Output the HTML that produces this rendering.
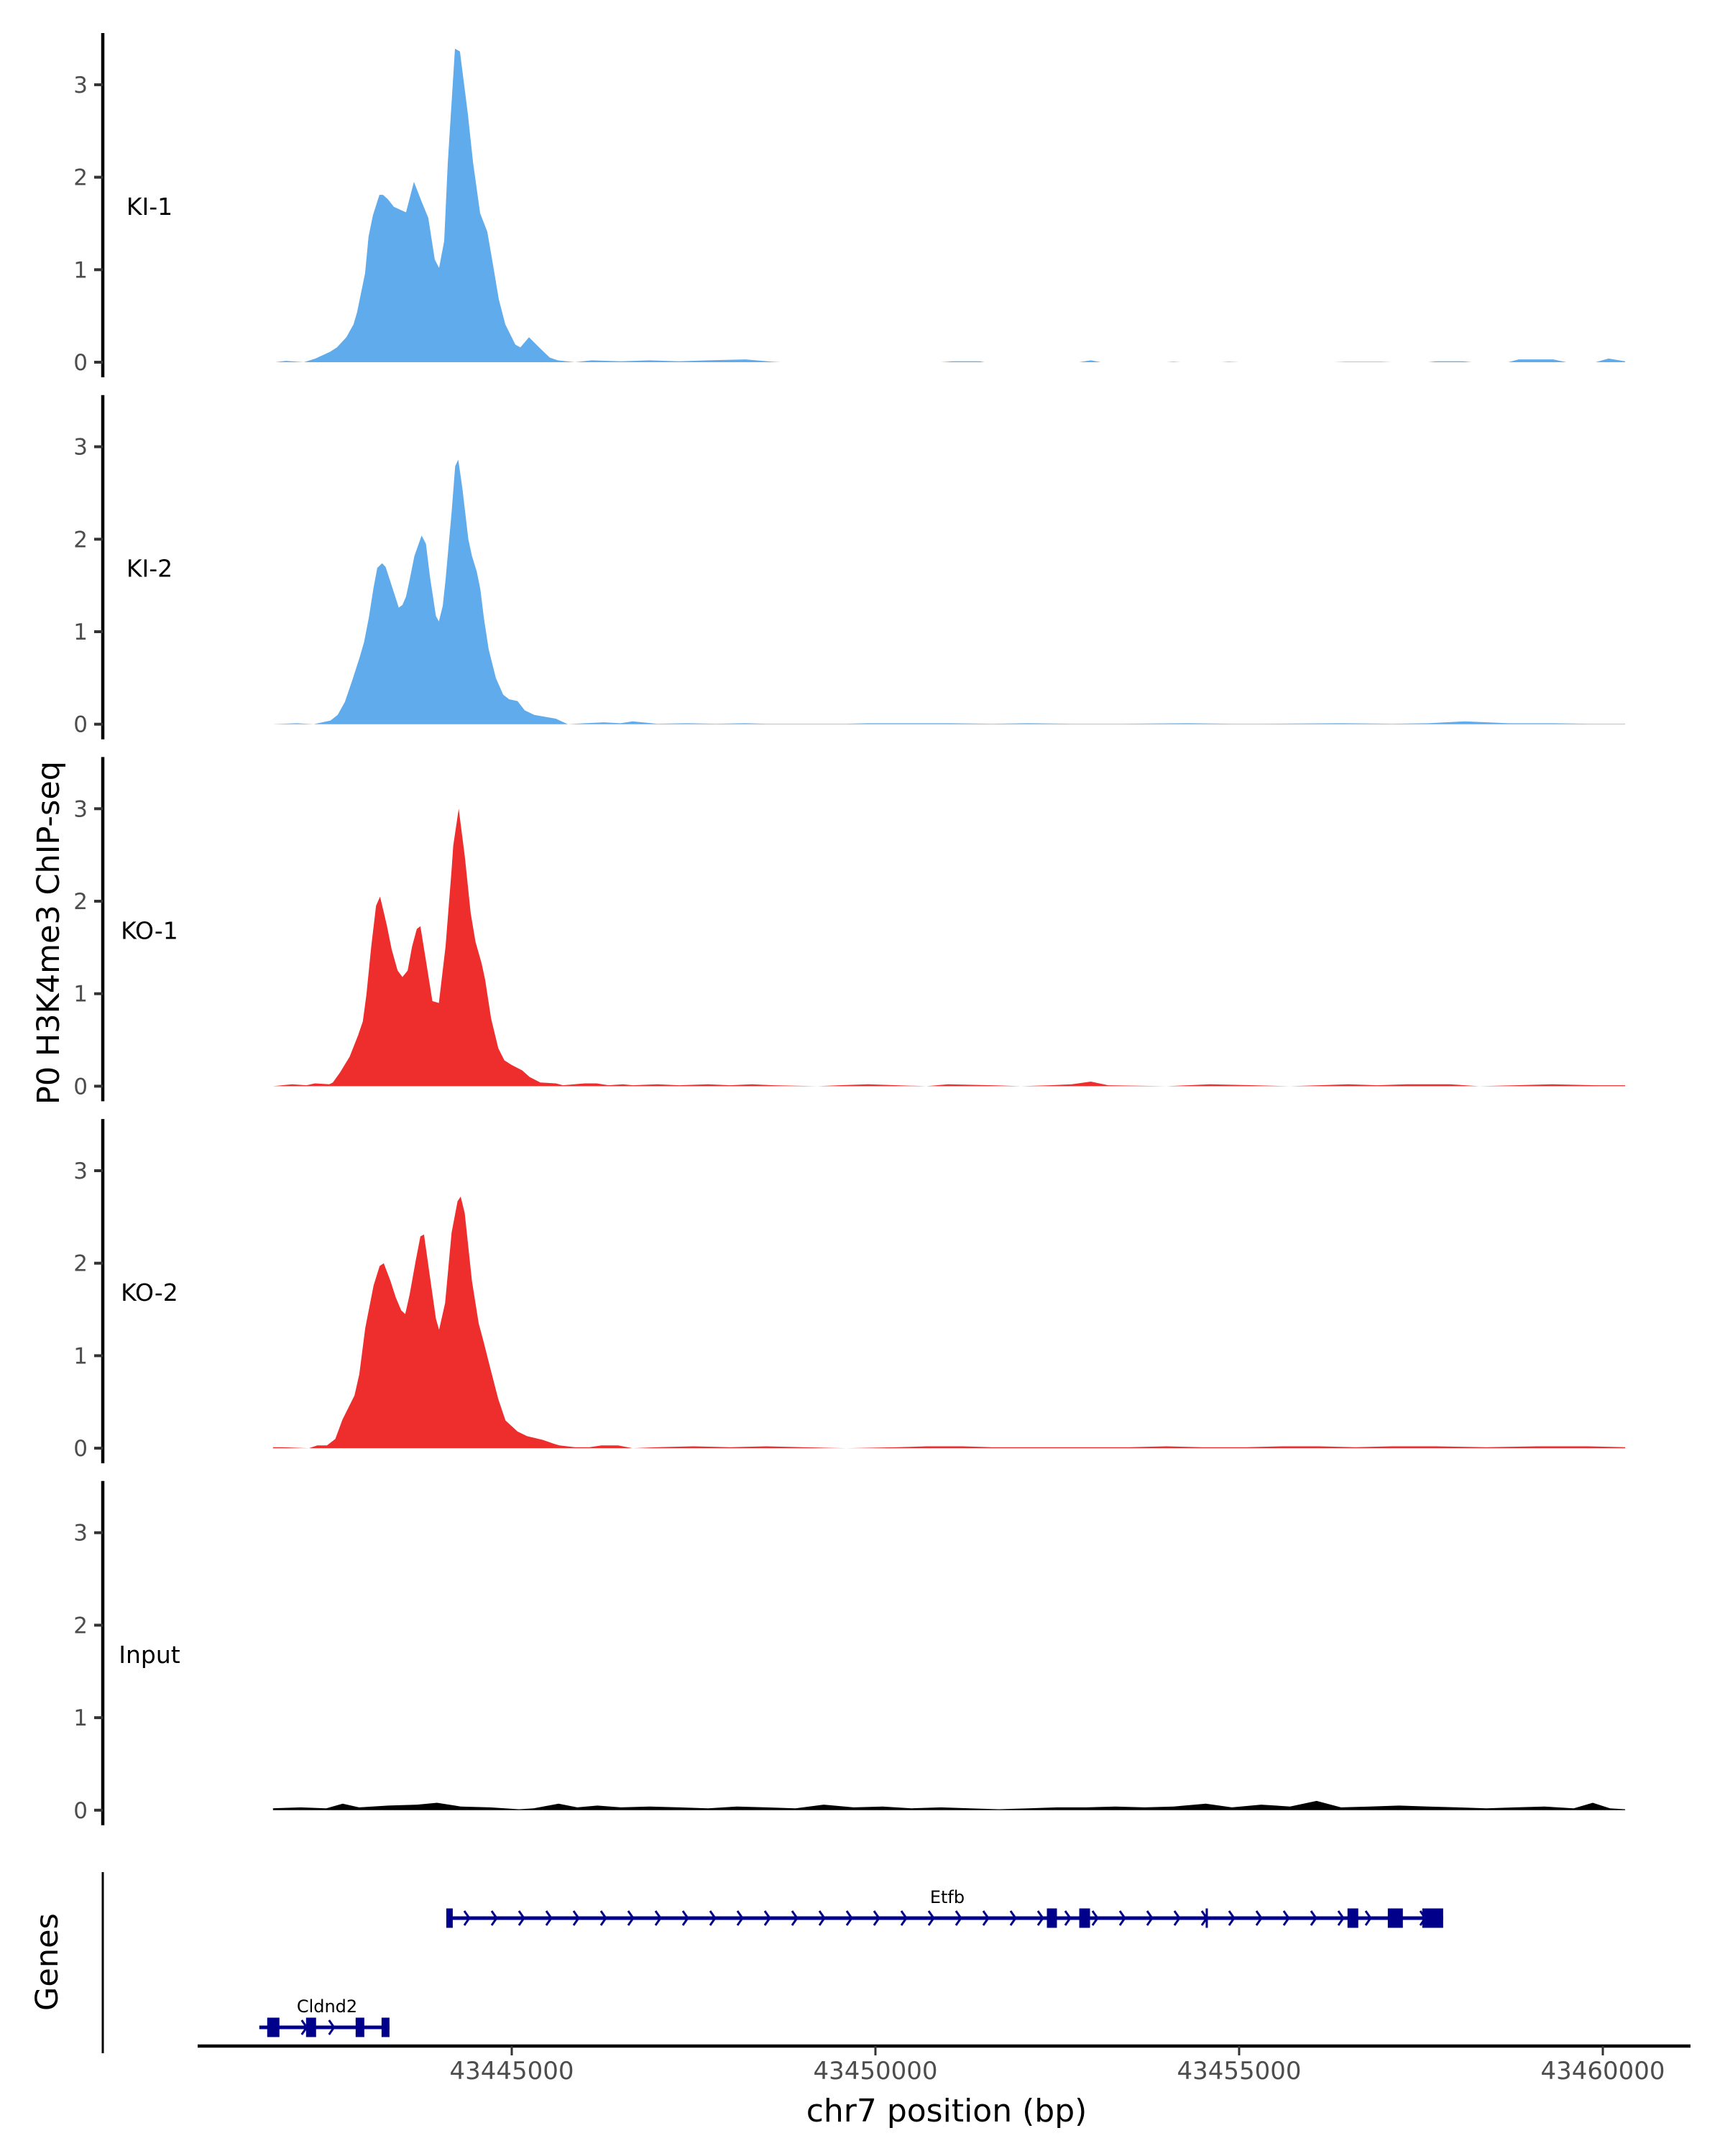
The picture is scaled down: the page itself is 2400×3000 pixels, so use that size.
<!DOCTYPE html>
<html><head><meta charset="utf-8"><style>
html,body{margin:0;padding:0;background:#fff}
svg{display:block}
text{font-family:"DejaVu Sans","Liberation Sans",sans-serif}
</style></head><body>
<svg id="chart" width="2400" height="3000" viewBox="0 0 2400 3000" xmlns="http://www.w3.org/2000/svg">
<text transform="translate(82,1298) rotate(-90)" text-anchor="middle" font-size="43" fill="#000">P0 H3K4me3 ChIP-seq</text>
<text transform="translate(80,2730) rotate(-90)" text-anchor="middle" font-size="43" fill="#000">Genes</text>
<text x="1317" y="2952" text-anchor="middle" font-size="44" fill="#000">chr7 position (bp)</text>
</svg>
<script>
// ---- data ----
const trackNames = ["KI-1","KI-2","KO-1","KO-2","Input"];
const trackColors = ["#5FABEC","#5FABEC","#EE2D2D","#EE2D2D","#000000"];
const yTicks = [0,1,2,3];
const xTicks = [43445000,43450000,43455000,43460000];
const xTickLabels = ["43445000","43450000","43455000","43460000"];

const ki1Pos = [43441747,43441895,43442142,43442301,43442498,43442597,43442726,43442825,43442874,43442983,43443032,43443092,43443181,43443230,43443299,43443378,43443546,43443655,43443764,43443853,43443942,43444001,43444071,43444120,43444219,43444288,43444397,43444466,43444565,43444664,43444743,43444822,43444911,43445049,43445119,43445237,43445376,43445524,43445633,43445870,
 43446100,43446500,43446900,43447300,43447700,43448214,43448590,43448700,43450900,43451061,43451437,43451500,43452800,43452960,43453100,43454000,43454097,43454200,43454750,43454858,43455000,43456300,43456470,43456945,43457100,43457600,43457706,43458082,43458200,43458700,43458843,43459318,43459500,43459900,43460079,43460307];
const ki1Val = [0,0.015,0,0.04,0.11,0.16,0.27,0.41,0.54,0.96,1.36,1.59,1.81,1.81,1.76,1.68,1.62,1.95,1.73,1.56,1.11,1.02,1.31,2.14,3.39,3.36,2.68,2.17,1.61,1.41,1.05,0.68,0.41,0.19,0.16,0.27,0.16,0.05,0.02,0,
 0.02,0.01,0.02,0.01,0.02,0.03,0.005,0,0,0.01,0.01,0,0,0.02,0,0,0.005,0,0,0.005,0,0,0.005,0.005,0,0,0.01,0.01,0,0,0.03,0.03,0,0,0.04,0.01];

const ki2Pos = [43441717,43442047,43442277,43442508,43442607,43442706,43442805,43442904,43442970,43443035,43443101,43443151,43443217,43443266,43443332,43443398,43443447,43443497,43443546,43443596,43443662,43443761,43443820,43443876,43443958,43443998,43444051,43444090,43444173,43444222,43444265,43444321,43444403,43444453,43444519,43444568,43444617,43444683,43444782,43444881,43444963,43445079,43445178,43445310,43445606,43445771,43446002,43446265,43446496,43446661,
 43447000,43447400,43447800,43448200,43448500,43449600,43449900,43450400,43451000,43451600,43452100,43452700,43453400,43454300,43454900,43455300,43456400,43457100,43457600,43458100,43458700,43459300,43459800,43460307];
const ki2Val = [0,0.01,0,0.04,0.1,0.24,0.47,0.71,0.89,1.15,1.48,1.69,1.74,1.7,1.54,1.38,1.26,1.29,1.38,1.56,1.82,2.04,1.95,1.59,1.17,1.11,1.28,1.56,2.29,2.79,2.86,2.55,2.0,1.82,1.65,1.46,1.15,0.81,0.5,0.32,0.27,0.25,0.15,0.1,0.06,0,0.01,0.02,0.01,0.03,
 0.005,0.01,0.005,0.01,0.005,0.005,0.01,0.01,0.01,0.005,0.01,0.005,0.005,0.01,0.005,0.005,0.01,0.005,0.01,0.03,0.01,0.01,0.005,0.005];

const ko1Pos = [43441717,43441981,43442178,43442294,43442492,43442541,43442640,43442772,43442887,43442953,43443002,43443068,43443134,43443190,43443283,43443349,43443431,43443497,43443569,43443629,43443695,43443744,43443826,43443909,43443998,43444090,43444173,43444196,43444271,43444354,43444436,43444502,43444585,43444634,43444716,43444815,43444898,43444997,43445145,43445244,43445392,43445606,43445705,43446002,43446167,43446331,43446529,43446661,
 43447000,43447300,43447700,43448000,43448300,43448600,43449200,43449500,43449900,43450300,43450700,43451000,43451600,43452000,43452400,43452700,43452960,43453200,43454000,43454300,43454600,43455200,43455700,43456100,43456500,43456900,43457300,43457900,43458300,43458800,43459300,43459900,43460307];
const ko1Val = [0,0.02,0.01,0.03,0.02,0.04,0.15,0.32,0.55,0.7,0.99,1.51,1.95,2.05,1.74,1.48,1.25,1.18,1.25,1.51,1.7,1.73,1.33,0.92,0.9,1.51,2.34,2.6,3.0,2.49,1.87,1.56,1.33,1.15,0.73,0.41,0.28,0.23,0.17,0.1,0.04,0.03,0.01,0.03,0.03,0.01,0.02,0.01,
 0.02,0.01,0.02,0.01,0.02,0.01,0,0.01,0.02,0.01,0,0.02,0.01,0,0.01,0.02,0.05,0.01,0,0.01,0.02,0.01,0,0.01,0.02,0.01,0.02,0.02,0,0.01,0.02,0.01,0.01];

const ko2Pos = [43441717,43441849,43442211,43442327,43442459,43442574,43442673,43442838,43442904,43442986,43443101,43443184,43443240,43443332,43443405,43443480,43443536,43443596,43443678,43443744,43443793,43443892,43443958,43444001,43444084,43444173,43444255,43444298,43444354,43444453,43444545,43444617,43444716,43444815,43444914,43445079,43445211,43445425,43445573,43445656,43445870,43446068,43446233,43446331,43446463,43446661,
 43447000,43447500,43448000,43448500,43449000,43449600,43450300,43450700,43451200,43451600,43452400,43452900,43453500,43454000,43454500,43455100,43455600,43456100,43456600,43457100,43457700,43458400,43459100,43459800,43460307];
const ko2Val = [0.01,0.01,0,0.03,0.03,0.1,0.31,0.57,0.8,1.3,1.76,1.97,2.0,1.81,1.63,1.49,1.45,1.66,2.02,2.29,2.31,1.76,1.4,1.28,1.57,2.33,2.67,2.72,2.54,1.81,1.35,1.14,0.83,0.53,0.3,0.18,0.13,0.09,0.05,0.03,0.01,0.01,0.03,0.03,0.03,0,
 0.01,0.02,0.01,0.02,0.01,0,0.01,0.02,0.02,0.01,0.01,0.01,0.01,0.02,0.01,0.01,0.02,0.02,0.01,0.02,0.02,0.01,0.02,0.02,0.01];

const inputPos = [43441717,43442100,43442450,43442676,43442900,43443300,43443700,43443972,43444300,43444700,43445100,43445300,43445643,43445900,43446177,43446500,43446900,43447300,43447700,43448100,43448500,43448900,43449291,43449700,43450100,43450500,43450900,43451300,43451700,43452100,43452500,43452900,43453300,43453700,43454100,43454542,43454900,43455303,43455700,43456065,43456400,43456800,43457200,43457600,43458000,43458400,43458800,43459200,43459600,43459862,43460100,43460307];
const inputVal = [0.02,0.03,0.02,0.07,0.03,0.05,0.06,0.08,0.04,0.03,0.01,0.02,0.07,0.03,0.05,0.03,0.04,0.03,0.02,0.04,0.03,0.02,0.06,0.03,0.04,0.02,0.03,0.02,0.01,0.02,0.03,0.03,0.04,0.03,0.04,0.07,0.03,0.06,0.04,0.10,0.03,0.04,0.05,0.04,0.03,0.02,0.03,0.04,0.02,0.08,0.02,0.01];

const trackPos = [ki1Pos,ki2Pos,ko1Pos,ko2Pos,inputPos];
const trackVal = [ki1Val,ki2Val,ko1Val,ko2Val,inputVal];

const geneNames = ["Etfb","Cldnd2"];
const geneStarts = [43444140,43441529];
const geneEnds = [43457805,43443319];
const etfbExonStarts = [43444100,43452357,43452802,43454540,43456490,43457044,43457518];
const etfbExonEnds   = [43444189,43452495,43452950,43454570,43456638,43457251,43457805];
const cldnd2ExonStarts = [43441638,43442172,43442854,43443210];
const cldnd2ExonEnds   = [43441806,43442310,43442973,43443319];
const geneExonStarts = [etfbExonStarts,cldnd2ExonStarts];
const geneExonEnds = [etfbExonEnds,cldnd2ExonEnds];

// ---- scales ----
const svg = document.getElementById('chart');
const NS = 'http://www.w3.org/2000/svg';
const X0 = 712, XB = 43445000, XK = 506/5000;
function xs(bp){ return X0 + (bp - XB) * XK; }
const PANEL0 = 504, PANEL_STEP = 503.7, YK = 128.7;
function baseY(i){ return PANEL0 + PANEL_STEP * i; }
function ys(i, v){ return baseY(i) - v * YK; }
function mk(tag, attrs){ const e = document.createElementNS(NS, tag); for (const k in attrs) e.setAttribute(k, attrs[k]); svg.appendChild(e); return e; }

// ---- tracks ----
for (let i = 0; i < trackNames.length; i++) {
  const b = baseY(i);
  const ax = mk('line', {x1:143, x2:143, y1:b-458, y2:b+21, stroke:'#000', 'stroke-width':4.5});
  
  
  for (const t of yTicks) {
    const tk = mk('line', {x1:131, x2:143, y1:ys(i,t), y2:ys(i,t), stroke:'#333', 'stroke-width':4});
    
    
    const tl = mk('text', {x:122, y:ys(i,t)+11, 'text-anchor':'end', 'font-size':31, fill:'#4d4d4d'});
    tl.textContent = String(t);
    
    
  }
  const lab = mk('text', {x:208, y:b-205, 'text-anchor':'middle', 'font-size':33, fill:'#000'});
  lab.textContent = trackNames[i];
  
  
  const P = trackPos[i], V = trackVal[i];
  let d = 'M' + xs(P[0]).toFixed(1) + ',' + b;
  for (let k = 0; k < P.length; k++) d += 'L' + xs(P[k]).toFixed(1) + ',' + ys(i, V[k]).toFixed(1);
  d += 'L' + xs(P[P.length-1]).toFixed(1) + ',' + b + 'Z';
  const area = mk('path', {d:d, fill:trackColors[i]});
  
  
}

// ---- genes panel ----
const gax = mk('line', {x1:143, x2:143, y1:2605, y2:2857, stroke:'#000', 'stroke-width':3});


const geneY = [2669, 2821];
const NAVY = '#00008B';
for (let g = 0; g < geneNames.length; g++) {
  const y = geneY[g];
  const x1 = xs(geneStarts[g]), x2 = xs(geneEnds[g]);
  const ln = mk('line', {x1:x1, x2:x2, y1:y, y2:y, stroke:NAVY, 'stroke-width':5});
  
  
  for (let cx = x1 + 25; cx < x2 - 8; cx += 38) {
    const ch = mk('polyline', {points:(cx-4)+','+(y-10)+' '+(cx+3)+','+y+' '+(cx-4)+','+(y+10), fill:'none', stroke:NAVY, 'stroke-width':3});
    
    
  }
  const S = geneExonStarts[g], E = geneExonEnds[g];
  for (let k = 0; k < S.length; k++) {
    const ex = mk('rect', {x:xs(S[k]), y:y-13.5, width:Math.max(3, xs(E[k])-xs(S[k])), height:27, fill:NAVY});
    
    
  }
  const gl = mk('text', {x:(g===0?1318:455), y:y-21, 'text-anchor':'middle', 'font-size':24, fill:'#000'});
  gl.textContent = geneNames[g];
  
  
}

// ---- x axis ----
const xax = mk('line', {x1:275, x2:2352, y1:2847, y2:2847, stroke:'#000', 'stroke-width':4.5});


for (let k = 0; k < xTicks.length; k++) {
  const x = xs(xTicks[k]);
  const t = mk('line', {x1:x, x2:x, y1:2847, y2:2860, stroke:'#333', 'stroke-width':3});
  
  
  const tl = mk('text', {x:x, y:2893, 'text-anchor':'middle', 'font-size':34, fill:'#4d4d4d'});
  tl.textContent = xTickLabels[k];
  
  
}
</script>
</body></html>
